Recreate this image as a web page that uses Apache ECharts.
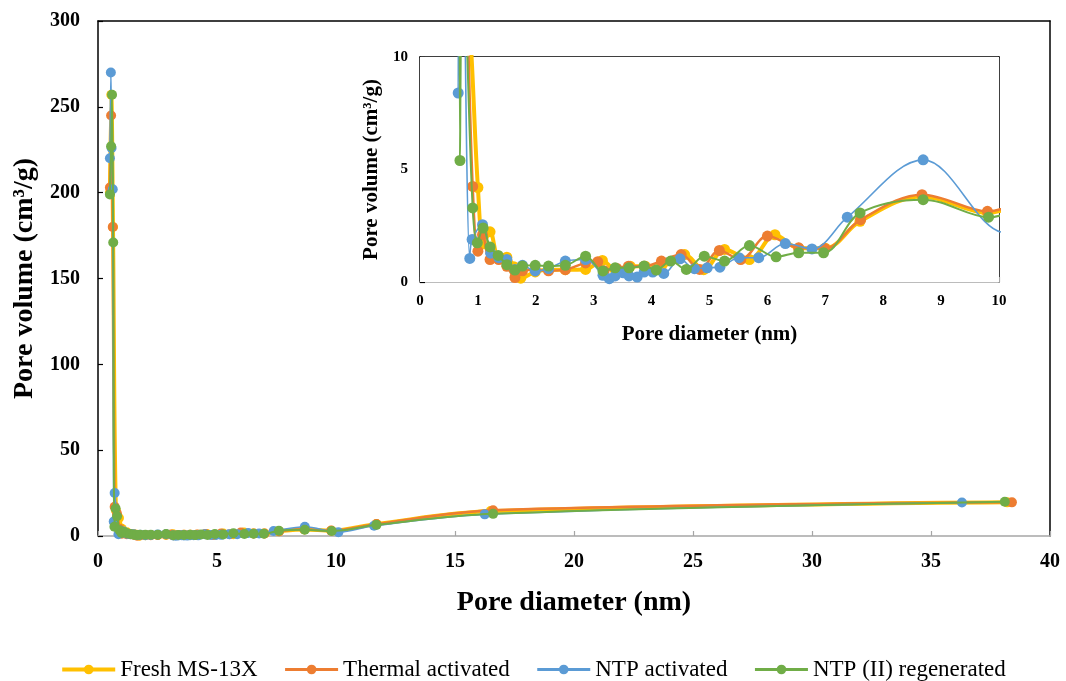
<!DOCTYPE html>
<html>
<head>
<meta charset="utf-8">
<style>
  html, body { margin: 0; padding: 0; background: #fff; }
  #chart { width: 1066px; height: 681px; }
</style>
<script src="https://cdn.jsdelivr.net/npm/echarts@6/dist/echarts.min.js"></script>
</head>
<body>
<div id="chart"></div>
<script>
// pore size distribution
var seriesNames = ['Fresh MS-13X', 'Thermal activated', 'NTP activated', 'NTP (II) regenerated'];

var freshX = [0.50, 0.56, 0.63, 0.75, 0.88, 1.00, 1.10, 1.21, 1.36, 1.50, 1.62, 1.74, 1.99, 2.22, 2.51, 2.86, 3.15, 3.37, 3.63, 3.89, 4.17, 4.57, 4.90, 5.26, 5.69, 6.13, 6.54, 7.00, 7.60, 8.67, 9.80, 11.70, 16.50, 38.20];
var freshY = [200, 257, 180, 15, 10.5, 4.2, 1.7, 2.23, 1.1, 1.1, 0.68, 0.17, 0.45, 0.55, 0.55, 0.56, 0.96, 0.55, 0.7, 0.7, 0.7, 1.22, 0.55, 1.45, 1.0, 2.1, 1.5, 1.5, 2.7, 3.8, 3.07, 7.0, 14.5, 19.6];

var thermalX = [0.50, 0.55, 0.62, 0.70, 0.80, 0.91, 1.00, 1.08, 1.21, 1.36, 1.50, 1.64, 1.77, 1.99, 2.22, 2.51, 2.86, 3.07, 3.18, 3.40, 3.60, 3.87, 4.17, 4.51, 4.83, 5.17, 5.54, 6.00, 6.54, 6.99, 7.61, 8.67, 9.80, 11.70, 16.60, 38.40];
var thermalY = [203, 245, 180, 17, 13, 4.25, 1.37, 2.1, 1.0, 1.0, 0.7, 0.2, 0.5, 0.55, 0.5, 0.55, 0.85, 0.9, 0.5, 0.6, 0.7, 0.7, 0.93, 1.22, 0.56, 1.4, 1.0, 2.04, 1.52, 1.49, 2.77, 3.88, 3.14, 7.0, 15.0, 19.6];

var ntpX = [0.50, 0.54, 0.57, 0.62, 0.66, 0.70, 0.86, 0.90, 1.08, 1.22, 1.36, 1.50, 1.64, 1.77, 1.99, 2.22, 2.51, 2.86, 3.16, 3.27, 3.37, 3.51, 3.61, 3.75, 3.87, 4.02, 4.21, 4.49, 4.74, 4.96, 5.18, 5.51, 5.85, 6.31, 6.77, 7.38, 8.69, 10.10, 11.60, 16.25, 36.30];
var ntpY = [220, 270, 226, 202, 8.4, 25, 1.05, 1.89, 2.55, 1.28, 1.08, 1.0, 0.56, 0.74, 0.49, 0.6, 0.93, 1.0, 0.3, 0.15, 0.27, 0.41, 0.27, 0.22, 0.44, 0.44, 0.38, 1.03, 0.59, 0.63, 0.66, 1.08, 1.08, 1.71, 1.47, 2.88, 5.43, 2.2, 6.0, 12.6, 19.5];

var regenX = [0.50, 0.55, 0.59, 0.64, 0.69, 0.74, 0.80, 0.91, 0.99, 1.09, 1.21, 1.35, 1.50, 1.64, 1.77, 1.99, 2.22, 2.51, 2.86, 3.16, 3.37, 3.61, 3.87, 4.08, 4.33, 4.60, 4.91, 5.26, 5.69, 6.15, 6.54, 6.97, 7.60, 8.69, 9.82, 11.70, 16.60, 38.10];
var regenY = [199, 227, 257, 171, 5.4, 16, 11.5, 3.29, 1.74, 2.4, 1.56, 1.18, 0.77, 0.53, 0.71, 0.74, 0.71, 0.74, 1.15, 0.49, 0.63, 0.63, 0.71, 0.53, 0.93, 0.56, 1.15, 0.93, 1.62, 1.12, 1.3, 1.3, 3.07, 3.66, 2.88, 6.5, 12.9, 19.9];

var mainXTicks = { min: 0, max: 40, interval: 5 };
var mainYTicks = { min: 0, max: 300, interval: 50 };
var insetXTicks = { min: 0, max: 10, interval: 1 };
var insetYTicks = { min: 0, max: 10, interval: 5 };

(function() {
  var serif = '"Liberation Serif", "Times New Roman", serif';
  var colors = ['#FFC000', '#ED7D31', '#5B9BD5', '#70AD47'];
  var widths = [4, 2.5, 1.6, 2];
  var legendWidths = [4, 3, 3, 3];
  var gray = '#a6a6a6';
  var xs = [freshX, thermalX, ntpX, regenX];
  var ys = [freshY, thermalY, ntpY, regenY];

  function pairs(x, y) {
    return x.map(function(v, i) { return [v, y[i]]; });
  }

  function valueAxis(grid, ticks, fontSize, margin, lineColor, extra) {
    var ax = {
      type: 'value', gridIndex: grid,
      min: ticks.min, max: ticks.max, interval: ticks.interval,
      axisLine: { show: true, onZero: false, lineStyle: { color: lineColor, width: 1.5 } },
      axisTick: { show: true, inside: true, length: 5, lineStyle: { color: lineColor, width: 1.2 } },
      axisLabel: { color: '#000', fontFamily: serif, fontWeight: 'bold', fontSize: fontSize, margin: margin },
      splitLine: { show: false }
    };
    for (var k in extra) ax[k] = extra[k];
    return ax;
  }

  // black box lines on the top and right of each plot area
  function frameAxis(grid, pos) {
    return {
      type: 'value', gridIndex: grid, position: pos, min: 0, max: 1,
      axisLine: { show: true, onZero: false, lineStyle: { color: '#000', width: 1.5 } },
      axisTick: { show: false }, axisLabel: { show: false }, splitLine: { show: false }
    };
  }

  var series = [];
  // main plot first, then inset
  [0, 1].forEach(function(g) {
    for (var i = 0; i < 4; i++) {
      series.push({
        name: seriesNames[i], type: 'line',
        xAxisIndex: g * 2, yAxisIndex: g * 2,
        data: pairs(xs[i], ys[i]),
        smooth: 0.35, clip: true,
        symbol: 'circle', symbolSize: g === 0 ? 10 : 11,
        lineStyle: { color: colors[i], width: widths[i] },
        itemStyle: { color: colors[i] },
        z: 2 + i + g * 10
      });
    }
  });

  var chart = echarts.init(document.getElementById('chart'), null, { renderer: 'canvas' });
  chart.setOption({
    animation: false,
    backgroundColor: '#fff',
    legend: {
      data: seriesNames.map(function(n, i) {
        return { name: n, lineStyle: { width: legendWidths[i] } };
      }),
      top: 653, left: 'center',
      itemWidth: 53, itemHeight: 12, itemGap: 26,
      textStyle: { color: '#000', fontFamily: serif, fontSize: 23 }
    },
    grid: [
      { left: 98, top: 21, width: 952, height: 515 },
      { left: 420, top: 57, width: 579, height: 225, show: true, backgroundColor: '#fff', borderWidth: 0, z: 5 }
    ],
    xAxis: [
      valueAxis(0, mainXTicks, 20, 16, gray, {
        name: 'Pore diameter (nm)', nameLocation: 'middle', nameGap: 53,
        nameTextStyle: { color: '#000', fontFamily: serif, fontWeight: 'bold', fontSize: 28 }
      }),
      frameAxis(0, 'top'),
      valueAxis(1, insetXTicks, 15, 12, gray, {
        name: 'Pore diameter (nm)', nameLocation: 'middle', nameGap: 42,
        nameTextStyle: { color: '#000', fontFamily: serif, fontWeight: 'bold', fontSize: 21 }
      }),
      frameAxis(1, 'top')
    ],
    yAxis: [
      valueAxis(0, mainYTicks, 20, 18, '#000', {
        name: 'Pore volume (cm³/g)', nameLocation: 'middle', nameGap: 51,
        nameTextStyle: { color: '#000', fontFamily: serif, fontWeight: 'bold', fontSize: 28 }
      }),
      frameAxis(0, 'right'),
      valueAxis(1, insetYTicks, 15, 12, '#000', {
        name: 'Pore volume (cm³/g)', nameLocation: 'middle', nameGap: 34,
        nameTextStyle: { color: '#000', fontFamily: serif, fontWeight: 'bold', fontSize: 21 }
      }),
      frameAxis(1, 'right')
    ],
    series: series
  });
})();
</script>
</body>
</html>
